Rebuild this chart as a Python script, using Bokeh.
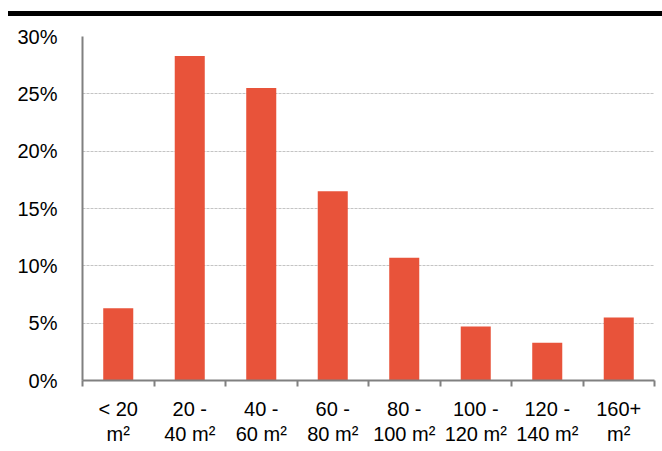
from bokeh.plotting import figure
from bokeh.models import Range1d, FixedTicker, NumeralTickFormatter, Div
from bokeh.layouts import column
from bokeh.embed import file_html
from bokeh.resources import INLINE

categories = ["< 20\nm²", "20 -\n40 m²", "40 -\n60 m²", "60 -\n80 m²",
              "80 -\n100 m²", "100 -\n120 m²", "120 -\n140 m²", "160+\nm²"]
shares = [0.063, 0.283, 0.255, 0.165, 0.107, 0.047, 0.033, 0.055]
y_ticks = [0, 0.05, 0.10, 0.15, 0.20, 0.25, 0.30]

n = len(categories)
centers = [i + 0.5 for i in range(n)]

FONT = "Liberation Sans"

p = figure(width=650, height=431, output_backend="svg", toolbar_location=None,
           x_range=Range1d(0, n), y_range=Range1d(0, 0.30),
           min_border_left=74, min_border_right=4, min_border_top=20, min_border_bottom=60)
p.outline_line_color = None
p.background_fill_color = "white"
p.border_fill_color = "white"

p.vbar(x=centers, top=shares, width=0.42, bottom=0, fill_color="#E8533A", line_color=None)

# x axis
p.xaxis.ticker = FixedTicker(ticks=centers, minor_ticks=list(range(n + 1)))
p.xaxis.major_label_overrides = {c: lab for c, lab in zip(centers, categories)}
p.xaxis.major_tick_line_color = None
p.xaxis.minor_tick_line_color = "#808080"
p.xaxis.minor_tick_line_width = 2
p.xaxis.minor_tick_out = 6
p.xaxis.minor_tick_in = 0
p.xaxis.axis_line_color = "#808080"
p.xaxis.axis_line_width = 2
p.xaxis.major_label_text_font = FONT
p.xaxis.major_label_text_font_size = "20px"
p.xaxis.major_label_text_color = "black"
p.xaxis.major_label_standoff = 11
p.xaxis.major_label_text_line_height = 1.15

# y axis
p.yaxis.ticker = FixedTicker(ticks=y_ticks)
p.yaxis.formatter = NumeralTickFormatter(format="0%")
p.yaxis.major_tick_line_color = None
p.yaxis.minor_tick_line_color = None
p.yaxis.axis_line_color = "#808080"
p.yaxis.axis_line_width = 2
p.yaxis.major_label_text_font = FONT
p.yaxis.major_label_text_font_size = "20px"
p.yaxis.major_label_text_color = "black"
p.yaxis.major_label_standoff = 19

p.xgrid.grid_line_color = None
p.ygrid.grid_line_color = "#C4C4C4"
p.ygrid.grid_line_dash = "3 1"
p.ygrid.grid_line_width = 1

bar = Div(width=654, height=5, styles={"background-color": "black"}, margin=(3, 0, 0, 0))

layout = column(bar, p, spacing=0, margin=(8, 0, 0, 8))

open("out.html", "w").write(file_html(layout, INLINE))
